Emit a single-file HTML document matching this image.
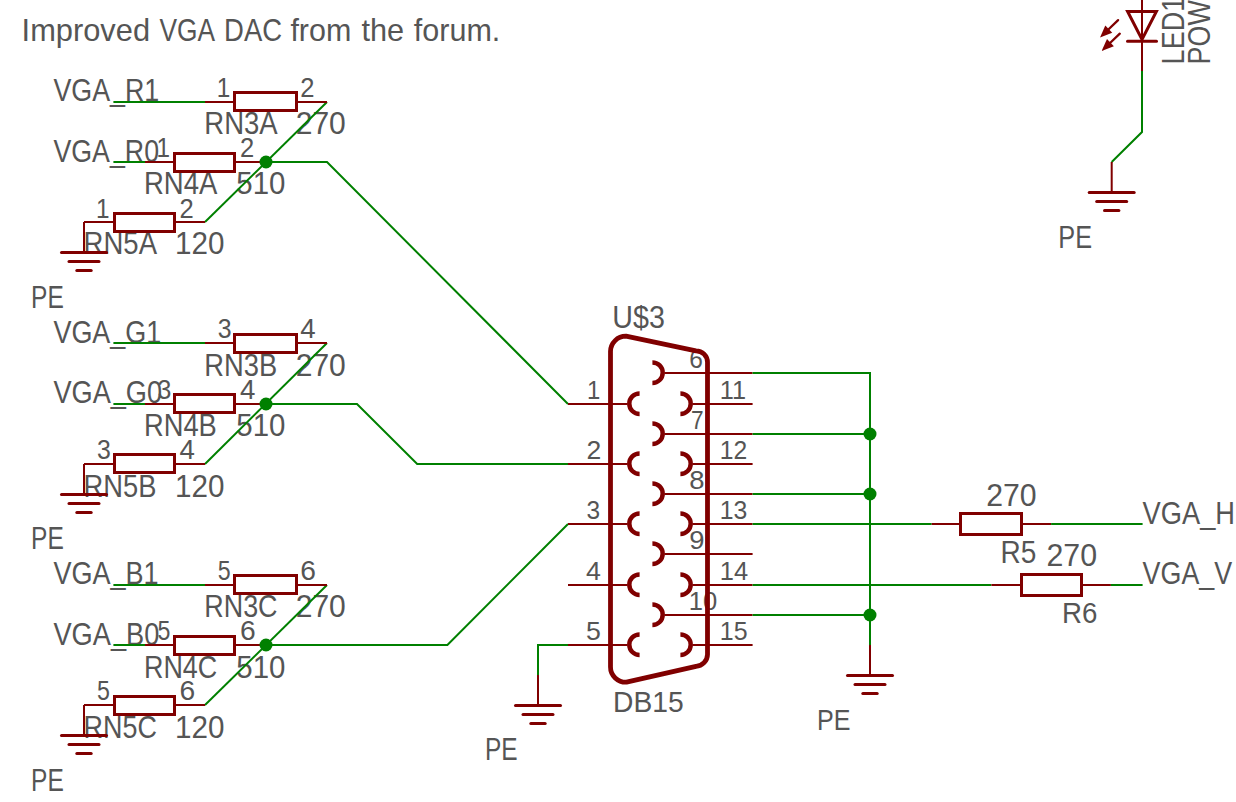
<!DOCTYPE html>
<html><head><meta charset="utf-8"><style>
html,body{margin:0;padding:0;background:#fff;width:1236px;height:802px;overflow:hidden}
svg{display:block}
text{font-family:"Liberation Sans",sans-serif;fill:#555555}
</style></head><body>
<svg width="1236" height="802" viewBox="0 0 1236 802">
<rect width="1236" height="802" fill="#fff"/>
<text transform="translate(216.80 96.90) scale(0.9106 1)" font-size="26.74">1</text>
<text transform="translate(300.30 96.90) scale(0.9575 1)" font-size="26.74">2</text>
<text transform="translate(204.30 133.70) scale(0.8890 1)" font-size="30.96">RN3A</text>
<text transform="translate(295.70 133.70) scale(0.9614 1)" font-size="31.25">270</text>
<text transform="translate(156.46 157.24) scale(0.9106 1)" font-size="26.74">1</text>
<text transform="translate(239.96 157.24) scale(0.9575 1)" font-size="26.74">2</text>
<text transform="translate(143.96 194.04) scale(0.8890 1)" font-size="30.96">RN4A</text>
<text transform="translate(236.36 194.04) scale(0.9422 1)" font-size="31.25">510</text>
<text transform="translate(96.12 217.58) scale(0.9106 1)" font-size="26.74">1</text>
<text transform="translate(179.62 217.58) scale(0.9575 1)" font-size="26.74">2</text>
<text transform="translate(83.62 254.38) scale(0.8890 1)" font-size="30.96">RN5A</text>
<text transform="translate(175.02 254.38) scale(0.9480 1)" font-size="31.25">120</text>
<text transform="translate(31.10 307.80) scale(0.7816 1)" font-size="31.40">PE</text>
<text transform="translate(53.40 101.30) scale(0.8392 1)" font-size="31.98">VGA_R1</text>
<text transform="translate(53.40 161.90) scale(0.8376 1)" font-size="31.98">VGA_R0</text>
<text transform="translate(217.80 338.26) scale(0.9311 1)" font-size="26.74">3</text>
<text transform="translate(300.30 338.26) scale(1.0347 1)" font-size="26.74">4</text>
<text transform="translate(204.30 376.06) scale(0.8824 1)" font-size="30.96">RN3B</text>
<text transform="translate(295.70 376.06) scale(0.9614 1)" font-size="31.25">270</text>
<text transform="translate(157.46 398.60) scale(0.9311 1)" font-size="26.74">3</text>
<text transform="translate(239.96 398.60) scale(1.0347 1)" font-size="26.74">4</text>
<text transform="translate(143.96 436.40) scale(0.8824 1)" font-size="30.96">RN4B</text>
<text transform="translate(236.36 436.40) scale(0.9422 1)" font-size="31.25">510</text>
<text transform="translate(97.12 458.94) scale(0.9311 1)" font-size="26.74">3</text>
<text transform="translate(179.62 458.94) scale(1.0347 1)" font-size="26.74">4</text>
<text transform="translate(83.62 496.74) scale(0.8824 1)" font-size="30.96">RN5B</text>
<text transform="translate(175.02 496.74) scale(0.9480 1)" font-size="31.25">120</text>
<text transform="translate(31.10 549.16) scale(0.7816 1)" font-size="31.40">PE</text>
<text transform="translate(53.40 342.66) scale(0.8433 1)" font-size="31.98">VGA_G1</text>
<text transform="translate(53.40 403.26) scale(0.8496 1)" font-size="31.98">VGA_G0</text>
<text transform="translate(217.80 579.62) scale(0.8676 1)" font-size="26.74">5</text>
<text transform="translate(300.30 579.62) scale(1.0562 1)" font-size="26.74">6</text>
<text transform="translate(204.30 617.42) scale(0.8690 1)" font-size="30.96">RN3C</text>
<text transform="translate(295.70 617.42) scale(0.9614 1)" font-size="31.25">270</text>
<text transform="translate(157.46 639.96) scale(0.8676 1)" font-size="26.74">5</text>
<text transform="translate(239.96 639.96) scale(1.0562 1)" font-size="26.74">6</text>
<text transform="translate(143.96 677.76) scale(0.8690 1)" font-size="30.96">RN4C</text>
<text transform="translate(236.36 677.76) scale(0.9422 1)" font-size="31.25">510</text>
<text transform="translate(97.12 700.30) scale(0.8676 1)" font-size="26.74">5</text>
<text transform="translate(179.62 700.30) scale(1.0562 1)" font-size="26.74">6</text>
<text transform="translate(83.62 738.10) scale(0.8690 1)" font-size="30.96">RN5C</text>
<text transform="translate(175.02 738.10) scale(0.9480 1)" font-size="31.25">120</text>
<text transform="translate(31.10 790.52) scale(0.7816 1)" font-size="31.40">PE</text>
<text transform="translate(53.40 584.02) scale(0.8455 1)" font-size="31.98">VGA_B1</text>
<text transform="translate(53.40 644.62) scale(0.8520 1)" font-size="31.98">VGA_B0</text>
<text transform="translate(587.10 399.20) scale(0.9219 1)" font-size="25.87">1</text>
<text transform="translate(586.50 459.20) scale(1.0252 1)" font-size="25.87">2</text>
<text transform="translate(586.50 519.20) scale(0.9463 1)" font-size="25.87">3</text>
<text transform="translate(586.10 580.20) scale(1.0341 1)" font-size="25.87">4</text>
<text transform="translate(586.10 640.20) scale(1.0341 1)" font-size="25.87">5</text>
<text transform="translate(719.80 399.20) scale(0.9796 1)" font-size="25.87">11</text>
<text transform="translate(719.80 459.20) scale(0.9543 1)" font-size="25.87">12</text>
<text transform="translate(719.80 519.20) scale(0.9581 1)" font-size="25.87">13</text>
<text transform="translate(719.80 580.20) scale(0.9848 1)" font-size="25.87">14</text>
<text transform="translate(719.80 640.20) scale(0.9660 1)" font-size="25.87">15</text>
<text transform="translate(689.30 368.00) scale(0.9463 1)" font-size="25.87">6</text>
<text transform="translate(690.90 429.00) scale(0.8770 1)" font-size="25.87">7</text>
<text transform="translate(689.30 489.00) scale(1.0585 1)" font-size="25.87">8</text>
<text transform="translate(689.30 549.00) scale(1.0585 1)" font-size="25.87">9</text>
<text transform="translate(688.80 610.00) scale(0.9885 1)" font-size="25.87">10</text>
<text transform="translate(612.30 328.00) scale(0.9036 1)" font-size="31.69">U$3</text>
<text transform="translate(613.00 711.80) scale(0.9292 1)" font-size="30.38">DB15</text>
<text transform="translate(817.00 730.20) scale(0.8262 1)" font-size="30.38">PE</text>
<text transform="translate(485.00 760.30) scale(0.7794 1)" font-size="31.40">PE</text>
<text transform="translate(986.20 506.10) scale(0.9460 1)" font-size="31.98">270</text>
<text transform="translate(1000.40 562.90) scale(0.8978 1)" font-size="31.25">R5</text>
<text transform="translate(1046.40 565.80) scale(0.9941 1)" font-size="30.52">270</text>
<text transform="translate(1061.90 622.60) scale(0.9158 1)" font-size="30.23">R6</text>
<text transform="translate(1142.60 523.60) scale(0.8853 1)" font-size="30.81">VGA_H</text>
<text transform="translate(1142.60 583.60) scale(0.8755 1)" font-size="30.67">VGA_V</text>
<text transform="translate(1058.30 248.00) scale(0.8217 1)" font-size="30.81">PE</text>
<text transform="translate(1184.00 64.40) rotate(-90) scale(0.8649 1)" font-size="31.25">LED1</text>
<text transform="translate(1210.00 64.40) rotate(-90) scale(0.8398 1)" font-size="31.98">POWER</text>
<text transform="translate(21.60 40.50) scale(1.0099 1)" font-size="30.52">Improved</text>
<text transform="translate(159.40 40.50) scale(0.8626 1)" font-size="30.52">VGA</text>
<text transform="translate(224.10 40.50) scale(0.9003 1)" font-size="30.52">DAC</text>
<text transform="translate(290.40 40.50) scale(0.9984 1)" font-size="30.52">from</text>
<text transform="translate(361.40 40.50) scale(1.0050 1)" font-size="30.52">the</text>
<text transform="translate(413.80 40.50) scale(1.0000 1)" font-size="30.52">forum.</text>
<path d="M113.40 102.00 L205.00 102.00" stroke="#008000" stroke-width="2" fill="none" stroke-linecap="butt" stroke-linejoin="miter"/>
<path d="M113.40 162.00 L145.00 162.00" stroke="#008000" stroke-width="2" fill="none" stroke-linecap="butt" stroke-linejoin="miter"/>
<path d="M327.00 102.00 L205.00 222.00" stroke="#008000" stroke-width="2" fill="none" stroke-linecap="butt" stroke-linejoin="miter"/>
<path d="M205.00 102.00 L234.50 102.00" stroke="#800000" stroke-width="2" fill="none" stroke-linecap="butt" stroke-linejoin="miter"/>
<path d="M296.50 102.00 L327.00 102.00" stroke="#800000" stroke-width="2" fill="none" stroke-linecap="butt" stroke-linejoin="miter"/>
<rect x="234.50" y="92.50" width="62.00" height="18.00" stroke="#800000" stroke-width="3" fill="none"/>
<path d="M145.00 162.00 L174.50 162.00" stroke="#800000" stroke-width="2" fill="none" stroke-linecap="butt" stroke-linejoin="miter"/>
<path d="M234.50 162.00 L266.00 162.00" stroke="#800000" stroke-width="2" fill="none" stroke-linecap="butt" stroke-linejoin="miter"/>
<rect x="174.50" y="153.50" width="60.00" height="18.00" stroke="#800000" stroke-width="3" fill="none"/>
<path d="M84.00 222.00 L114.50 222.00" stroke="#800000" stroke-width="2" fill="none" stroke-linecap="butt" stroke-linejoin="miter"/>
<path d="M174.50 222.00 L205.00 222.00" stroke="#800000" stroke-width="2" fill="none" stroke-linecap="butt" stroke-linejoin="miter"/>
<rect x="114.50" y="213.50" width="60.00" height="18.00" stroke="#800000" stroke-width="3" fill="none"/>
<path d="M84.00 222.00 L84.00 252.50" stroke="#800000" stroke-width="2" fill="none" stroke-linecap="butt" stroke-linejoin="miter"/>
<path d="M61.50 252.50 L106.50 252.50" stroke="#800000" stroke-width="3" fill="none" stroke-linecap="round" stroke-linejoin="miter"/>
<path d="M69.00 261.50 L99.00 261.50" stroke="#800000" stroke-width="3" fill="none" stroke-linecap="round" stroke-linejoin="miter"/>
<path d="M76.80 270.50 L91.20 270.50" stroke="#800000" stroke-width="3" fill="none" stroke-linecap="round" stroke-linejoin="miter"/>
<circle cx="266.00" cy="162.00" r="6.5" fill="#008000"/>
<path d="M113.40 343.00 L205.00 343.00" stroke="#008000" stroke-width="2" fill="none" stroke-linecap="butt" stroke-linejoin="miter"/>
<path d="M113.40 404.00 L145.00 404.00" stroke="#008000" stroke-width="2" fill="none" stroke-linecap="butt" stroke-linejoin="miter"/>
<path d="M327.00 343.00 L205.00 464.00" stroke="#008000" stroke-width="2" fill="none" stroke-linecap="butt" stroke-linejoin="miter"/>
<path d="M205.00 343.00 L234.50 343.00" stroke="#800000" stroke-width="2" fill="none" stroke-linecap="butt" stroke-linejoin="miter"/>
<path d="M296.50 343.00 L327.00 343.00" stroke="#800000" stroke-width="2" fill="none" stroke-linecap="butt" stroke-linejoin="miter"/>
<rect x="234.50" y="334.50" width="62.00" height="18.00" stroke="#800000" stroke-width="3" fill="none"/>
<path d="M145.00 404.00 L174.50 404.00" stroke="#800000" stroke-width="2" fill="none" stroke-linecap="butt" stroke-linejoin="miter"/>
<path d="M234.50 404.00 L266.00 404.00" stroke="#800000" stroke-width="2" fill="none" stroke-linecap="butt" stroke-linejoin="miter"/>
<rect x="174.50" y="394.50" width="60.00" height="18.00" stroke="#800000" stroke-width="3" fill="none"/>
<path d="M84.00 464.00 L114.50 464.00" stroke="#800000" stroke-width="2" fill="none" stroke-linecap="butt" stroke-linejoin="miter"/>
<path d="M174.50 464.00 L205.00 464.00" stroke="#800000" stroke-width="2" fill="none" stroke-linecap="butt" stroke-linejoin="miter"/>
<rect x="114.50" y="454.50" width="60.00" height="18.00" stroke="#800000" stroke-width="3" fill="none"/>
<path d="M84.00 464.00 L84.00 494.50" stroke="#800000" stroke-width="2" fill="none" stroke-linecap="butt" stroke-linejoin="miter"/>
<path d="M61.50 494.50 L106.50 494.50" stroke="#800000" stroke-width="3" fill="none" stroke-linecap="round" stroke-linejoin="miter"/>
<path d="M69.00 503.50 L99.00 503.50" stroke="#800000" stroke-width="3" fill="none" stroke-linecap="round" stroke-linejoin="miter"/>
<path d="M76.80 512.50 L91.20 512.50" stroke="#800000" stroke-width="3" fill="none" stroke-linecap="round" stroke-linejoin="miter"/>
<circle cx="266.00" cy="404.00" r="6.5" fill="#008000"/>
<path d="M113.40 585.00 L205.00 585.00" stroke="#008000" stroke-width="2" fill="none" stroke-linecap="butt" stroke-linejoin="miter"/>
<path d="M113.40 645.00 L145.00 645.00" stroke="#008000" stroke-width="2" fill="none" stroke-linecap="butt" stroke-linejoin="miter"/>
<path d="M327.00 585.00 L205.00 705.00" stroke="#008000" stroke-width="2" fill="none" stroke-linecap="butt" stroke-linejoin="miter"/>
<path d="M205.00 585.00 L234.50 585.00" stroke="#800000" stroke-width="2" fill="none" stroke-linecap="butt" stroke-linejoin="miter"/>
<path d="M296.50 585.00 L327.00 585.00" stroke="#800000" stroke-width="2" fill="none" stroke-linecap="butt" stroke-linejoin="miter"/>
<rect x="234.50" y="575.50" width="62.00" height="18.00" stroke="#800000" stroke-width="3" fill="none"/>
<path d="M145.00 645.00 L174.50 645.00" stroke="#800000" stroke-width="2" fill="none" stroke-linecap="butt" stroke-linejoin="miter"/>
<path d="M234.50 645.00 L266.00 645.00" stroke="#800000" stroke-width="2" fill="none" stroke-linecap="butt" stroke-linejoin="miter"/>
<rect x="174.50" y="636.50" width="60.00" height="18.00" stroke="#800000" stroke-width="3" fill="none"/>
<path d="M84.00 705.00 L114.50 705.00" stroke="#800000" stroke-width="2" fill="none" stroke-linecap="butt" stroke-linejoin="miter"/>
<path d="M174.50 705.00 L205.00 705.00" stroke="#800000" stroke-width="2" fill="none" stroke-linecap="butt" stroke-linejoin="miter"/>
<rect x="114.50" y="696.50" width="60.00" height="18.00" stroke="#800000" stroke-width="3" fill="none"/>
<path d="M84.00 705.00 L84.00 735.50" stroke="#800000" stroke-width="2" fill="none" stroke-linecap="butt" stroke-linejoin="miter"/>
<path d="M61.50 735.50 L106.50 735.50" stroke="#800000" stroke-width="3" fill="none" stroke-linecap="round" stroke-linejoin="miter"/>
<path d="M69.00 744.50 L99.00 744.50" stroke="#800000" stroke-width="3" fill="none" stroke-linecap="round" stroke-linejoin="miter"/>
<path d="M76.80 753.50 L91.20 753.50" stroke="#800000" stroke-width="3" fill="none" stroke-linecap="round" stroke-linejoin="miter"/>
<circle cx="266.00" cy="645.00" r="6.5" fill="#008000"/>
<path d="M266.00 162.00 L327.00 162.00 L568.00 404.00" stroke="#008000" stroke-width="2" fill="none" stroke-linecap="butt" stroke-linejoin="miter"/>
<path d="M266.00 404.00 L357.00 404.00 L417.20 464.00 L568.00 464.00" stroke="#008000" stroke-width="2" fill="none" stroke-linecap="butt" stroke-linejoin="miter"/>
<path d="M266.00 645.00 L447.40 645.00 L568.00 524.00" stroke="#008000" stroke-width="2" fill="none" stroke-linecap="butt" stroke-linejoin="miter"/>
<path d="M568.00 404.00 L627.55 404.00" stroke="#800000" stroke-width="2" fill="none" stroke-linecap="butt" stroke-linejoin="miter"/>
<path d="M639.60 393.40 A10.30 10.30 0 0 0 639.60 414.00" stroke="#800000" stroke-width="4.5" fill="none"/>
<path d="M568.00 464.00 L627.55 464.00" stroke="#800000" stroke-width="2" fill="none" stroke-linecap="butt" stroke-linejoin="miter"/>
<path d="M639.60 453.40 A10.30 10.30 0 0 0 639.60 474.00" stroke="#800000" stroke-width="4.5" fill="none"/>
<path d="M568.00 524.00 L627.55 524.00" stroke="#800000" stroke-width="2" fill="none" stroke-linecap="butt" stroke-linejoin="miter"/>
<path d="M639.60 513.40 A10.30 10.30 0 0 0 639.60 534.00" stroke="#800000" stroke-width="4.5" fill="none"/>
<path d="M568.00 585.00 L627.55 585.00" stroke="#800000" stroke-width="2" fill="none" stroke-linecap="butt" stroke-linejoin="miter"/>
<path d="M639.60 574.40 A10.30 10.30 0 0 0 639.60 595.00" stroke="#800000" stroke-width="4.5" fill="none"/>
<path d="M568.00 645.00 L627.55 645.00" stroke="#800000" stroke-width="2" fill="none" stroke-linecap="butt" stroke-linejoin="miter"/>
<path d="M639.60 634.40 A10.30 10.30 0 0 0 639.60 655.00" stroke="#800000" stroke-width="4.5" fill="none"/>
<path d="M692.45 404.00 L752.60 404.00" stroke="#800000" stroke-width="2" fill="none" stroke-linecap="butt" stroke-linejoin="miter"/>
<path d="M680.40 393.40 A10.30 10.30 0 0 1 680.40 414.00" stroke="#800000" stroke-width="4.5" fill="none"/>
<path d="M692.45 464.00 L752.60 464.00" stroke="#800000" stroke-width="2" fill="none" stroke-linecap="butt" stroke-linejoin="miter"/>
<path d="M680.40 453.40 A10.30 10.30 0 0 1 680.40 474.00" stroke="#800000" stroke-width="4.5" fill="none"/>
<path d="M692.45 524.00 L752.60 524.00" stroke="#800000" stroke-width="2" fill="none" stroke-linecap="butt" stroke-linejoin="miter"/>
<path d="M680.40 513.40 A10.30 10.30 0 0 1 680.40 534.00" stroke="#800000" stroke-width="4.5" fill="none"/>
<path d="M692.45 585.00 L752.60 585.00" stroke="#800000" stroke-width="2" fill="none" stroke-linecap="butt" stroke-linejoin="miter"/>
<path d="M680.40 574.40 A10.30 10.30 0 0 1 680.40 595.00" stroke="#800000" stroke-width="4.5" fill="none"/>
<path d="M692.45 645.00 L752.60 645.00" stroke="#800000" stroke-width="2" fill="none" stroke-linecap="butt" stroke-linejoin="miter"/>
<path d="M680.40 634.40 A10.30 10.30 0 0 1 680.40 655.00" stroke="#800000" stroke-width="4.5" fill="none"/>
<path d="M664.45 373.00 L752.60 373.00" stroke="#800000" stroke-width="2" fill="none" stroke-linecap="butt" stroke-linejoin="miter"/>
<path d="M652.40 362.40 A10.30 10.30 0 0 1 652.40 383.00" stroke="#800000" stroke-width="4.5" fill="none"/>
<path d="M664.45 434.00 L752.60 434.00" stroke="#800000" stroke-width="2" fill="none" stroke-linecap="butt" stroke-linejoin="miter"/>
<path d="M652.40 423.40 A10.30 10.30 0 0 1 652.40 444.00" stroke="#800000" stroke-width="4.5" fill="none"/>
<path d="M664.45 494.00 L752.60 494.00" stroke="#800000" stroke-width="2" fill="none" stroke-linecap="butt" stroke-linejoin="miter"/>
<path d="M652.40 483.40 A10.30 10.30 0 0 1 652.40 504.00" stroke="#800000" stroke-width="4.5" fill="none"/>
<path d="M664.45 554.00 L752.60 554.00" stroke="#800000" stroke-width="2" fill="none" stroke-linecap="butt" stroke-linejoin="miter"/>
<path d="M652.40 543.40 A10.30 10.30 0 0 1 652.40 564.00" stroke="#800000" stroke-width="4.5" fill="none"/>
<path d="M664.45 615.00 L752.60 615.00" stroke="#800000" stroke-width="2" fill="none" stroke-linecap="butt" stroke-linejoin="miter"/>
<path d="M652.40 604.40 A10.30 10.30 0 0 1 652.40 625.00" stroke="#800000" stroke-width="4.5" fill="none"/>
<path d="M610.5 351.4 A15.4 15.4 0 0 1 626 336.2 L696 350.8 A11.5 11.5 0 0 1 707.5 362.3 L707.5 654.5 A12 12 0 0 1 696 666.3 L626.5 682.2 A15.6 15.2 0 0 1 610.5 667 Z" stroke="#800000" stroke-width="4.8" fill="none" stroke-linejoin="round"/>
<path d="M752.60 373.00 L870.00 373.00" stroke="#008000" stroke-width="2" fill="none" stroke-linecap="butt" stroke-linejoin="miter"/>
<path d="M752.60 434.00 L870.00 434.00" stroke="#008000" stroke-width="2" fill="none" stroke-linecap="butt" stroke-linejoin="miter"/>
<path d="M752.60 494.00 L870.00 494.00" stroke="#008000" stroke-width="2" fill="none" stroke-linecap="butt" stroke-linejoin="miter"/>
<path d="M752.60 615.00 L870.00 615.00" stroke="#008000" stroke-width="2" fill="none" stroke-linecap="butt" stroke-linejoin="miter"/>
<path d="M870.00 372.00 L870.00 646.00" stroke="#008000" stroke-width="2" fill="none" stroke-linecap="butt" stroke-linejoin="miter"/>
<circle cx="870.00" cy="434.00" r="6.5" fill="#008000"/>
<circle cx="870.00" cy="494.00" r="6.5" fill="#008000"/>
<circle cx="870.00" cy="615.00" r="6.5" fill="#008000"/>
<path d="M870.00 645.00 L870.00 675.50" stroke="#800000" stroke-width="2" fill="none" stroke-linecap="butt" stroke-linejoin="miter"/>
<path d="M847.50 675.50 L892.50 675.50" stroke="#800000" stroke-width="3" fill="none" stroke-linecap="round" stroke-linejoin="miter"/>
<path d="M855.00 684.50 L885.00 684.50" stroke="#800000" stroke-width="3" fill="none" stroke-linecap="round" stroke-linejoin="miter"/>
<path d="M862.80 693.50 L877.20 693.50" stroke="#800000" stroke-width="3" fill="none" stroke-linecap="round" stroke-linejoin="miter"/>
<path d="M568.00 645.00 L538.00 645.00 L538.00 676.00" stroke="#008000" stroke-width="2" fill="none" stroke-linecap="butt" stroke-linejoin="miter"/>
<path d="M538.00 675.00 L538.00 705.50" stroke="#800000" stroke-width="2" fill="none" stroke-linecap="butt" stroke-linejoin="miter"/>
<path d="M515.50 705.50 L560.50 705.50" stroke="#800000" stroke-width="3" fill="none" stroke-linecap="round" stroke-linejoin="miter"/>
<path d="M523.00 714.50 L553.00 714.50" stroke="#800000" stroke-width="3" fill="none" stroke-linecap="round" stroke-linejoin="miter"/>
<path d="M530.80 723.50 L545.20 723.50" stroke="#800000" stroke-width="3" fill="none" stroke-linecap="round" stroke-linejoin="miter"/>
<path d="M752.60 524.00 L931.70 524.00" stroke="#008000" stroke-width="2" fill="none" stroke-linecap="butt" stroke-linejoin="miter"/>
<path d="M752.60 585.00 L991.40 585.00" stroke="#008000" stroke-width="2" fill="none" stroke-linecap="butt" stroke-linejoin="miter"/>
<path d="M931.70 524.00 L960.50 524.00" stroke="#800000" stroke-width="2" fill="none" stroke-linecap="butt" stroke-linejoin="miter"/>
<path d="M1021.50 524.00 L1051.10 524.00" stroke="#800000" stroke-width="2" fill="none" stroke-linecap="butt" stroke-linejoin="miter"/>
<rect x="960.50" y="513.50" width="61.00" height="21.00" stroke="#800000" stroke-width="3" fill="none"/>
<path d="M991.40 585.00 L1021.50 585.00" stroke="#800000" stroke-width="2" fill="none" stroke-linecap="butt" stroke-linejoin="miter"/>
<path d="M1081.50 585.00 L1110.90 585.00" stroke="#800000" stroke-width="2" fill="none" stroke-linecap="butt" stroke-linejoin="miter"/>
<rect x="1021.50" y="574.50" width="60.00" height="21.00" stroke="#800000" stroke-width="3" fill="none"/>
<path d="M1051.10 524.00 L1142.60 524.00" stroke="#008000" stroke-width="2" fill="none" stroke-linecap="butt" stroke-linejoin="miter"/>
<path d="M1110.90 585.00 L1142.60 585.00" stroke="#008000" stroke-width="2" fill="none" stroke-linecap="butt" stroke-linejoin="miter"/>
<path d="M1142.00 -5.00 L1142.00 71.00" stroke="#800000" stroke-width="2" fill="none" stroke-linecap="butt" stroke-linejoin="miter"/>
<path d="M1142.00 71.00 L1142.00 132.00 L1111.70 162.00" stroke="#008000" stroke-width="2" fill="none" stroke-linecap="butt" stroke-linejoin="miter"/>
<path d="M1111.70 162.00 L1111.70 192.50" stroke="#800000" stroke-width="2" fill="none" stroke-linecap="butt" stroke-linejoin="miter"/>
<path d="M1089.20 192.50 L1134.20 192.50" stroke="#800000" stroke-width="3" fill="none" stroke-linecap="round" stroke-linejoin="miter"/>
<path d="M1096.70 201.50 L1126.70 201.50" stroke="#800000" stroke-width="3" fill="none" stroke-linecap="round" stroke-linejoin="miter"/>
<path d="M1104.50 210.50 L1118.90 210.50" stroke="#800000" stroke-width="3" fill="none" stroke-linecap="round" stroke-linejoin="miter"/>
<path d="M1127.6 11.5 L1156.4 11.5 L1142 39.5 Z" stroke="#800000" stroke-width="3" fill="none" stroke-linejoin="miter" stroke-miterlimit="10"/>
<path d="M1127.50 41.30 L1156.50 41.30" stroke="#800000" stroke-width="3" fill="none" stroke-linecap="round" stroke-linejoin="miter"/>
<path d="M1118.10 20.10 L1107.33 30.51" stroke="#800000" stroke-width="2.3" fill="none" stroke-linecap="round" stroke-linejoin="miter"/>
<path d="M1100.00 37.60 L1105.30 25.53 L1112.25 32.71 Z" fill="#800000"/>
<path d="M1119.80 33.70 L1108.99 43.97" stroke="#800000" stroke-width="2.3" fill="none" stroke-linecap="round" stroke-linejoin="miter"/>
<path d="M1101.60 51.00 L1107.00 38.97 L1113.89 46.22 Z" fill="#800000"/>
</svg>
</body></html>
